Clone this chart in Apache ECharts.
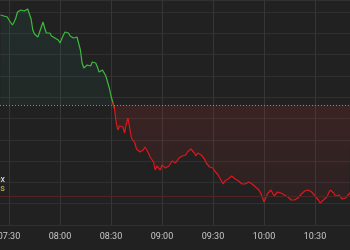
<!DOCTYPE html>
<html><head><meta charset="utf-8">
<script src="https://cdn.jsdelivr.net/npm/echarts@6/dist/echarts.min.js"></script>
<style>html,body{margin:0;padding:0;background:#212121;}#c{width:350px;height:250px;}</style>
</head><body><div id="c"></div>
<script>
// minutes since midnight, 07:25 .. 10:51
const startMinute = 445;
const values = [
210,209,209,207,208,205,204,200,203,207,213,212,215,215,214,215,216,214,
206,195,191,189,188,193,198,203,197,192,193,192,189,188,187,187,185,
182,186,190,193,191,192,189,187,187,189,188,187,
175,162,157,159,160,161,159,163,161,162,158,153,152,155,154,149,143,137,129,123,117,
103,95,99,101,98,92,101,107,97,87,85,82,76,74,73,75,75,78,
77,72,68,66,63,55,59,57,55,60,62,57,55,59,58,64,65,62,63,67,
69,69,71,70,73,75,76,75,72,69,72,74,70,68,66,62,60,58,57,57,
54,52,50,47,45,41,44,42,46,47,49,48,46,45,44,43,41,40,41,42,
43,42,41,39,38,37,35,32,28,23,25,31,33,35,33,29,30,33,32,32,
31,30,29,28,26,25,24,25,27,27,28,31,33,34,35,35,34,33,31,29,
28,25,22,24,25,27,28,32,35,34,32,29,28,30,29,26,24,27,28,31,33
];
const times = values.map((_, i) => startMinute + i);
const prevClose = 120;
const lowLine = 29;
const legendTexts = ['Index', 'Futures'];

const pts = times.map((t, i) => [t, values[i]]);
let cross = values.findIndex(v => v < prevClose);
const upData = pts.slice(0, cross + 1);
const downData = pts.slice(cross - 1);

const fmt = v => { const h = Math.floor(v / 60), m = v % 60; return (h < 10 ? '0' : '') + h + ':' + (m < 10 ? '0' : '') + m; };
const chart = echarts.init(document.getElementById('c'), null, {renderer: 'canvas'});
chart.setOption({
  backgroundColor: '#212121',
  animation: false,
  grid: {left: -42, right: -16, top: 0, bottom: 25, containLabel: false, outerBoundsMode: 'none'},
  xAxis: {
    type: 'value', min: 420, max: 660, interval: 30,
    axisLine: {show: false}, axisTick: {show: false},
    axisLabel: {color: '#c8c8c8', fontSize: 9, margin: 7, formatter: fmt, fontFamily: 'Roboto'},
    splitLine: {show: true, lineStyle: {color: '#363636', width: 1}}
  },
  yAxis: {
    type: 'value', min: 0, max: 225, interval: 21.3,
    axisLine: {show: false}, axisTick: {show: false}, axisLabel: {show: false},
    splitLine: {show: true, lineStyle: {color: '#303030', width: 1}}
  },
  series: [{
    type: 'line',
    data: upData,
    showSymbol: false,
    lineStyle: {width: 1.2, color: '#3dba3d'},
    itemStyle: {color: '#3dba3d'},
    areaStyle: {origin: prevClose, color: new echarts.graphic.LinearGradient(0, 0, 0, 1, [
      {offset: 0, color: 'rgba(40,170,140,0.12)'}, {offset: 1, color: 'rgba(40,170,140,0.08)'}])},
    markLine: {
      silent: true, symbol: 'none', label: {show: false},
      data: [
        {yAxis: prevClose, lineStyle: {color: '#8a8a8a', type: [1, 2], width: 1}},
        {yAxis: lowLine, lineStyle: {color: '#4e2424', type: 'solid', width: 1}}
      ]
    }
  }, {
    type: 'line',
    data: downData,
    showSymbol: false,
    lineStyle: {width: 1.2, color: '#e0161b'},
    itemStyle: {color: '#e0161b'},
    areaStyle: {origin: prevClose, color: new echarts.graphic.LinearGradient(0, 0, 0, 1, [
      {offset: 0, color: 'rgba(200,45,45,0.22)'}, {offset: 1, color: 'rgba(200,45,45,0.10)'}])}
  }],
  graphic: [
    {type: 'text', right: 345, top: 175, style: {text: legendTexts[0], fill: '#e8e8e8', font: '9px Roboto', textAlign: 'right'}},
    {type: 'text', right: 345, top: 184, style: {text: legendTexts[1], fill: '#d8c45a', font: '9px Roboto', textAlign: 'right'}}
  ]
});
</script></body></html>
